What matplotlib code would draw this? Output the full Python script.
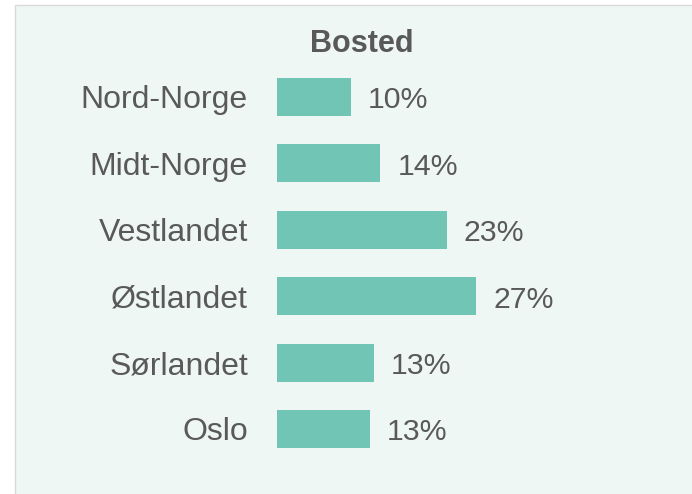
import matplotlib
matplotlib.use("Agg")
import matplotlib.pyplot as plt
from matplotlib.patches import Rectangle

# data
regions = ["Nord-Norge", "Midt-Norge", "Vestlandet", "Østlandet", "Sørlandet", "Oslo"]
shares = [10, 14, 23, 27, 13.1, 12.6]
title = "Bosted"

bar_color = "#71C5B4"
bg_color = "#EFF7F4"
text_color = "#595959"

plt.rcParams['font.family'] = ['Liberation Sans', 'DejaVu Sans']

fig = plt.figure(figsize=(6.92, 4.94), dpi=100, facecolor="white")
# panel background with light border on left/top only
fig.patches.append(Rectangle((15 / 692, -0.05), 1, 1.05 - 4.5 / 494, transform=fig.transFigure,
                             facecolor=bg_color, edgecolor="#D9D9D9", linewidth=1, zorder=-10))

ax = fig.add_axes([277 / 692, 0.0644, 400 / 692, 0.8065])
ax.set_facecolor("none")

pos = list(range(len(regions)))
ax.barh(pos, shares, height=0.57, color=bar_color)
ax.set_xlim(0, 400 / 7.37)
ax.set_ylim(len(regions) - 0.5, -0.5)

for p, v in zip(pos, shares):
    ax.annotate(f"{round(v)}%", (v, p), xytext=(12.5, -2.5), textcoords="offset points",
                va="center", ha="left", fontsize=21.8, color=text_color)

ax.set_yticks(pos)
ax.set_yticklabels(regions, fontsize=23, color=text_color)
ax.tick_params(axis="y", length=0, pad=21)
ax.set_xticks([])
for s in ax.spines.values():
    s.set_visible(False)

fig.text(361.5 / 692, 1 - 44 / 494, title, ha="center", va="center",
         fontsize=22, fontweight="bold", color=text_color)

fig.savefig("out.png", dpi=100, facecolor=fig.get_facecolor())
